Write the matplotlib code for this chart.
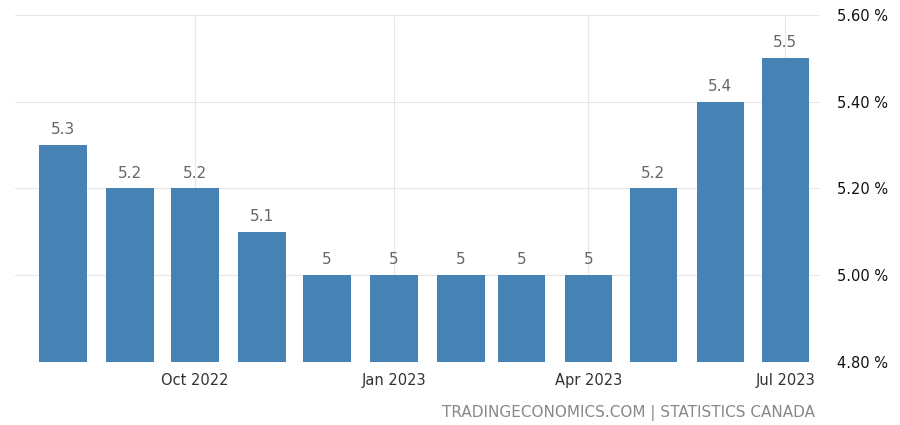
import matplotlib
matplotlib.use("Agg")
import matplotlib.pyplot as plt
import datetime as dt

months = ["2022-08","2022-09","2022-10","2022-11","2022-12","2023-01","2023-02","2023-03","2023-04","2023-05","2023-06","2023-07"]
values = [5.3,5.2,5.2,5.1,5.0,5.0,5.0,5.0,5.0,5.2,5.4,5.5]
labels = ["5.3","5.2","5.2","5.1","5","5","5","5","5","5.2","5.4","5.5"]
yticks = [4.8,5.0,5.2,5.4,5.6]

dates = [dt.datetime.strptime(m, "%Y-%m") for m in months]
fig = plt.figure(figsize=(9, 4.25), dpi=100)
ax = fig.add_axes([0.017, 0.148, 0.894, 0.817])
ax.bar(dates, [v - 4.8 for v in values], bottom=4.8, width=22, color="#4682b4", zorder=2)
for d, v, l in zip(dates, values, labels):
    ax.text(d, v + 0.018, l, ha="center", va="bottom", fontsize=11, color="#666666")
ax.set_ylim(4.8, 5.6)
ax.set_xlim(dt.datetime(2022, 7, 10), dt.datetime(2023, 7, 17))
ax.yaxis.tick_right()
ax.set_yticks(yticks)
ax.set_yticklabels([f"{t:.2f} %" for t in yticks], fontsize=10.5, color="#111111")
xt = [dt.datetime(2022,10,1), dt.datetime(2023,1,1), dt.datetime(2023,4,1), dt.datetime(2023,7,1)]
ax.set_xticks(xt)
ax.set_xticklabels(["Oct 2022","Jan 2023","Apr 2023","Jul 2023"], fontsize=10.5, color="#333333")
ax.tick_params(axis="x", length=0, pad=8)
ax.tick_params(axis="y", length=0, pad=12)
ax.grid(True, color="#e6e6e6", linewidth=0.8, zorder=0)
for s in ax.spines.values():
    s.set_visible(False)
fig.text(0.905, 0.01, "TRADINGECONOMICS.COM | STATISTICS CANADA", ha="right", va="bottom", fontsize=11, color="#888888")
fig.savefig("out.png")
